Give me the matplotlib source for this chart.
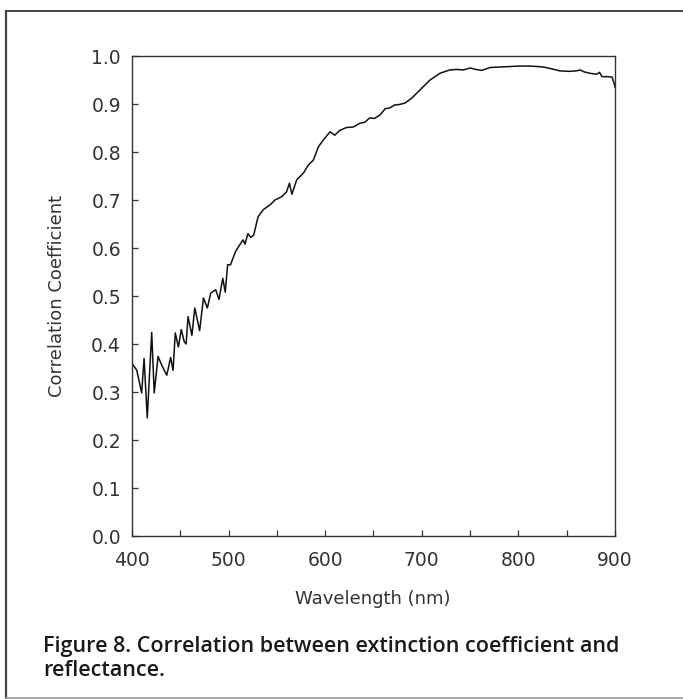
import matplotlib
matplotlib.use("Agg")
import matplotlib.pyplot as plt
from matplotlib.lines import Line2D

wavelength = [400, 405, 410, 412.5, 415.8, 420.4, 423, 427, 431, 436, 440, 442.5, 444.8, 448,
              451, 454, 456, 458, 462, 465, 470, 474, 478, 481.5, 486.7, 490, 494, 496.5, 499,
              502, 507, 511, 515, 517, 520, 523, 526, 530.5, 536, 543, 548, 555, 560, 563,
              565.5, 570.5, 577.4, 582.6, 587.7, 593, 598, 605, 610, 615, 622, 629, 636, 641,
              646, 651, 656.7, 662, 667, 672, 677, 682.6, 689.5, 698, 708.5, 718.8, 729, 736,
              743, 750, 756, 762, 770.6, 780, 791, 800, 812, 820, 826, 835, 843, 852, 860, 864,
              868, 874, 881, 884, 886.5, 892, 897, 899.5, 900]
correlation = [0.36, 0.345, 0.298, 0.37, 0.246, 0.424, 0.298, 0.374, 0.355, 0.335, 0.372, 0.345,
               0.423, 0.394, 0.43, 0.405, 0.40, 0.457, 0.418, 0.475, 0.428, 0.496, 0.475, 0.506,
               0.513, 0.493, 0.537, 0.508, 0.565, 0.565, 0.592, 0.605, 0.617, 0.608, 0.63, 0.622,
               0.627, 0.665, 0.68, 0.69, 0.70, 0.707, 0.717, 0.735, 0.712, 0.742, 0.756, 0.773,
               0.783, 0.811, 0.825, 0.842, 0.835, 0.845, 0.851, 0.852, 0.860, 0.862, 0.871, 0.870,
               0.877, 0.89, 0.892, 0.898, 0.899, 0.902, 0.912, 0.929, 0.95, 0.964, 0.971, 0.972,
               0.971, 0.975, 0.972, 0.970, 0.976, 0.977, 0.978, 0.979, 0.979, 0.978, 0.977, 0.973,
               0.969, 0.968, 0.969, 0.971, 0.967, 0.964, 0.962, 0.966, 0.957, 0.957, 0.956, 0.94,
               0.935]

x_ticks = [400, 500, 600, 700, 800, 900]
x_minor = [450, 550, 650, 750, 850]
y_ticks = [0.0, 0.1, 0.2, 0.3, 0.4, 0.5, 0.6, 0.7, 0.8, 0.9, 1.0]
caption_1 = "Figure 8. Correlation between extinction coefficient and"
caption_2 = "reflectance."

W, H = 683, 699
fig = plt.figure(figsize=(W / 100, H / 100), dpi=100)
fig.patch.set_facecolor("white")

ax = fig.add_axes([132 / W, 1 - 536 / H, (615 - 132) / W, (536 - 56) / H])
ax.plot(wavelength, correlation, color="#111111", lw=1.1)
ax.set_xlim(400, 900)
ax.set_ylim(0, 1.0)
ax.set_xticks(x_ticks)
ax.set_xticks(x_minor, minor=True)
ax.set_yticks(y_ticks)
ax.set_yticklabels([f"{v:.1f}" for v in y_ticks])
ax.tick_params(axis="both", which="both", direction="in", length=4, width=0.9,
               color="#333333", labelsize=13.5, labelcolor="#333333")
ax.tick_params(axis="x", pad=11)
ax.tick_params(axis="y", pad=8)
for s in ax.spines.values():
    s.set_linewidth(1.0)
    s.set_color("#333333")

fig.text(373 / W, 1 - 599 / H, "Wavelength (nm)", ha="center", va="center",
         fontsize=13, color="#333333")
fig.text(57 / W, 1 - 296 / H, "Correlation Coefficient", ha="center", va="center",
         rotation=90, fontsize=13, color="#333333")

# caption, sized to span the same width as in the reference
cap_font = dict(family="Open Sans", weight="semibold", color="#1a1a1a")
t1 = fig.text(43 / W, 1 - 652 / H, caption_1, ha="left", va="baseline", fontsize=15, **cap_font)
fig.canvas.draw()
w_px = t1.get_window_extent().width
fs = 15 * 577 / w_px
t1.set_fontsize(fs)
fig.text(43 / W, 1 - 676 / H, caption_2, ha="left", va="baseline", fontsize=fs, **cap_font)

# frame around the figure
fc = "#444444"
fig.add_artist(Line2D([6 / W, 6 / W], [1 - 698 / H, 1 - 11 / H], transform=fig.transFigure,
                      color=fc, lw=1.6))
fig.add_artist(Line2D([6 / W, 1.0], [1 - 11 / H, 1 - 11 / H], transform=fig.transFigure,
                      color=fc, lw=1.4))
fig.add_artist(Line2D([6 / W, 1.0], [1 - 697.5 / H, 1 - 697.5 / H], transform=fig.transFigure,
                      color="#999999", lw=1.2))

fig.savefig("out.png", dpi=100)
